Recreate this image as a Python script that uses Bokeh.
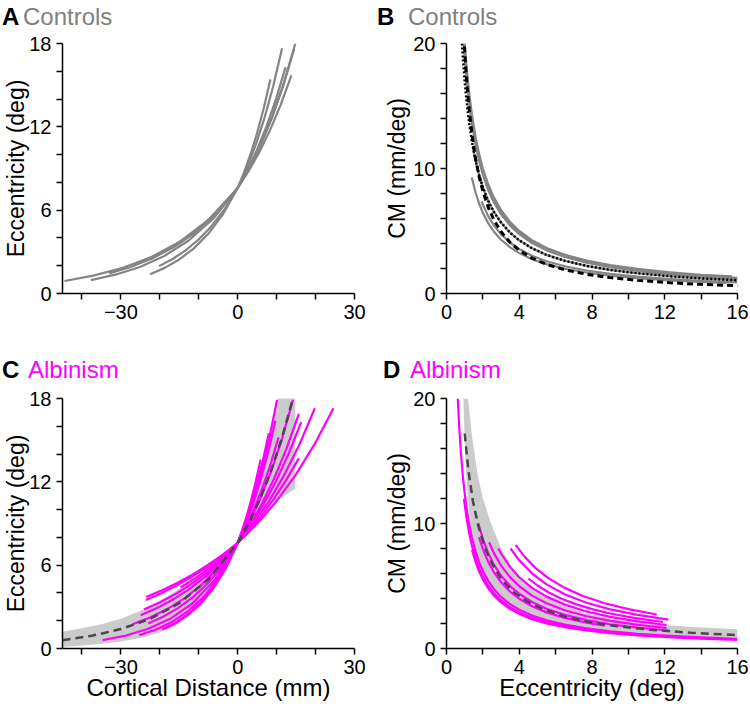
from bokeh.plotting import figure
from bokeh.layouts import column, row
from bokeh.models import Range1d, FixedTicker, Div
from bokeh.embed import file_html
from bokeh.resources import INLINE

# ---------------- data ----------------
# Panel A: controls, eccentricity (deg) vs cortical distance (mm)
ctrl_dist = [
    [-44.5, -37.08, -29.67, -22.25, -14.83, -7.42, 0, 2.96, 5.92, 8.88, 11.84, 14.8],
    [-37.7, -31.42, -25.13, -18.85, -12.57, -6.28, 0, 2.9, 5.8, 8.7, 11.6, 14.5],
    [-26.1, -21.75, -17.4, -13.05, -8.7, -4.35, 0, 2.76, 5.52, 8.28, 11.04, 13.8],
    [-33, -27.5, -22, -16.5, -11, -5.5, 0, 2.46, 4.92, 7.38, 9.84, 12.3],
    [-20.2, -16.83, -13.47, -10.1, -6.73, -3.37, 0, 2.28, 4.56, 6.84, 9.12, 11.4],
    [-22.5, -18.75, -15, -11.25, -7.5, -3.75, 0, 1.68, 3.36, 5.04, 6.72, 8.4],
]
ctrl_ecc = [
    [0.9, 1.285, 1.833, 2.615, 3.732, 5.326, 7.6, 9.03, 10.73, 12.749, 15.149, 18.0],
    [0.96, 1.355, 1.913, 2.701, 3.813, 5.383, 7.6, 8.99, 10.634, 12.579, 14.879, 17.6],
    [2.16, 2.664, 3.285, 4.052, 4.997, 6.163, 7.6, 8.787, 10.159, 11.745, 13.58, 15.7],
    [1.45, 1.911, 2.519, 3.32, 4.375, 5.767, 7.6, 8.853, 10.313, 12.013, 13.993, 16.3],
    [1.97, 2.467, 3.09, 3.87, 4.846, 6.069, 7.6, 8.996, 10.648, 12.605, 14.92, 17.66],
    [1.39, 1.845, 2.449, 3.25, 4.314, 5.726, 7.6, 8.753, 10.081, 11.61, 13.371, 15.4],
]

# Panel B: controls, cortical magnification (mm/deg) vs eccentricity (deg)
ctrl_cm_ecc = [
    [1.0, 1.1, 1.25, 1.4, 1.6, 1.8, 2.0, 2.3, 2.6, 3.0, 3.5, 4.0, 4.7, 5.5, 6.5, 7.7, 9.0, 10.5, 12.3, 14.0, 16.0],
    [0.95, 1.0, 1.1, 1.25, 1.4, 1.6, 1.8, 2.0, 2.3, 2.6, 3.0, 3.5, 4.0, 4.7, 5.5, 6.5, 7.7, 9.0, 10.5, 12.3, 14.0, 16.0],
    [2.16, 2.6, 3.0, 3.5, 4.0, 4.7, 5.5, 6.5, 7.7, 9.0, 10.5, 12.3, 14.0, 15.7],
    [1.45, 1.6, 1.8, 2.0, 2.3, 2.6, 3.0, 3.5, 4.0, 4.7, 5.5, 6.5, 7.7, 9.0, 10.5, 12.3, 14.0, 16.0],
    [1.93, 2.0, 2.3, 2.6, 3.0, 3.5, 4.0, 4.7, 5.5, 6.5, 7.7, 9.0, 10.5, 12.3, 14.0, 16.0],
    [1.39, 1.6, 1.8, 2.0, 2.3, 2.6, 3.0, 3.5, 4.0, 4.7, 5.5, 6.5, 7.7, 9.0, 10.5, 12.3, 14.0, 15.4],
]
ctrl_cm = [
    [20, 18.18, 16, 14.29, 12.5, 11.11, 10, 8.7, 7.69, 6.67, 5.71, 5.0, 4.26, 3.64, 3.08, 2.6, 2.22, 1.9, 1.63, 1.43, 1.25],
    [20, 19, 17.27, 15.2, 13.57, 11.875, 10.56, 9.5, 8.26, 7.31, 6.33, 5.43, 4.75, 4.04, 3.45, 2.92, 2.47, 2.11, 1.81, 1.545, 1.357, 1.19],
    [8.8, 7.4, 6.45, 5.55, 4.9, 4.2, 3.62, 3.09, 2.63, 2.27, 1.97, 1.7, 1.5, 1.38],
    [11.7, 10.6, 9.44, 8.5, 7.39, 6.54, 5.67, 4.86, 4.25, 3.62, 3.09, 2.62, 2.21, 1.89, 1.62, 1.38, 1.21, 1.06],
    [7.36, 7.1, 6.17, 5.46, 4.73, 4.06, 3.55, 3.02, 2.58, 2.18, 1.84, 1.58, 1.35, 1.15, 1.01, 0.89],
    [9.28, 8.06, 7.17, 6.45, 5.61, 4.96, 4.3, 3.69, 3.23, 2.74, 2.35, 1.98, 1.68, 1.43, 1.23, 1.05, 0.92, 0.84],
]
ref_dotted_ecc = [0.85, 0.9, 1.0, 1.1, 1.25, 1.4, 1.6, 1.8, 2.0, 2.3, 2.6, 3.0, 3.5, 4.0, 4.7, 5.5, 6.5, 7.7, 9.0, 10.5, 12.3, 14.0, 16.0]
ref_dotted_cm = [20, 18.89, 17, 15.45, 13.6, 12.14, 10.63, 9.44, 8.5, 7.39, 6.54, 5.67, 4.86, 4.25, 3.62, 3.09, 2.62, 2.21, 1.89, 1.62, 1.38, 1.21, 1.06]
ref_dashed_ecc = [0.95, 1.1, 1.25, 1.4, 1.6, 1.8, 2.0, 2.3, 2.6, 3.0, 3.5, 4.0, 4.7, 5.5, 6.5, 7.7, 9.0, 10.5, 12.3, 14.0, 16.0]
ref_dashed_cm = [20.57, 17.15, 14.64, 12.72, 10.78, 9.31, 8.17, 6.87, 5.9, 4.94, 4.08, 3.46, 2.83, 2.33, 1.9, 1.54, 1.27, 1.05, 0.86, 0.73, 0.62]

# Panel C: albinism, eccentricity vs cortical distance
alb_dist = [
    [-34.7, -28.92, -23.13, -17.35, -11.57, -5.78, 0, 2.02, 4.04, 6.06, 8.08, 10.1],
    [-25.3, -21.08, -16.87, -12.65, -8.43, -4.22, 0, 1.94, 3.88, 5.82, 7.76, 9.7],
    [-19.4, -16.17, -12.93, -9.7, -6.47, -3.23, 0, 1.6, 3.2, 4.8, 6.4, 8.0],
    [-27, -22.5, -18, -13.5, -9, -4.5, 0, 2.84, 5.68, 8.52, 11.36, 14.2],
    [-23, -19.17, -15.33, -11.5, -7.67, -3.83, 0, 2.1, 4.2, 6.3, 8.4, 10.5],
    [-24.9, -20.75, -16.6, -12.45, -8.3, -4.15, 0, 3.14, 6.28, 9.42, 12.56, 15.7],
    [-24.1, -20.08, -16.07, -12.05, -8.03, -4.02, 0, 3.26, 6.52, 9.78, 13.04, 16.3],
    [-23.6, -19.67, -15.73, -11.8, -7.87, -3.93, 0, 3.96, 7.92, 11.88, 15.84, 19.8],
    [-23.5, -19.58, -15.67, -11.75, -7.83, -3.92, 0, 4.92, 9.84, 14.76, 19.68, 24.6],
    [-14.7, -12.25, -9.8, -7.35, -4.9, -2.45, 0, 3.14, 6.28, 9.42, 12.56, 15.7],
    [-18.5, -15.42, -12.33, -9.25, -6.17, -3.08, 0, 1.18, 2.36, 3.54, 4.72, 5.9],
]
alb_ecc = [
    [0.6, 0.916, 1.399, 2.135, 3.26, 4.978, 7.6, 9.02, 10.706, 12.707, 15.082, 17.9],
    [0.96, 1.355, 1.913, 2.701, 3.813, 5.383, 7.6, 8.864, 10.338, 12.057, 14.062, 16.4],
    [1.37, 1.823, 2.425, 3.227, 4.293, 5.712, 7.6, 8.764, 10.107, 11.655, 13.441, 15.5],
    [1.75, 2.235, 2.855, 3.647, 4.658, 5.95, 7.6, 9.02, 10.706, 12.707, 15.082, 17.9],
    [1.8, 2.288, 2.909, 3.698, 4.702, 5.978, 7.6, 8.73, 10.028, 11.519, 13.232, 15.2],
    [2.4, 2.908, 3.524, 4.271, 5.176, 6.272, 7.6, 8.917, 10.463, 12.276, 14.404, 16.9],
    [2.8, 3.307, 3.906, 4.613, 5.449, 6.435, 7.6, 8.853, 10.313, 12.013, 13.993, 16.3],
    [3.5, 3.983, 4.532, 5.158, 5.869, 6.679, 7.6, 8.959, 10.561, 12.45, 14.676, 17.3],
    [3.7, 4.172, 4.703, 5.303, 5.979, 6.741, 7.6, 8.959, 10.561, 12.45, 14.676, 17.3],
    [4.4, 4.82, 5.279, 5.783, 6.334, 6.938, 7.6, 8.551, 9.62, 10.823, 12.177, 13.7],
    [1.45, 1.911, 2.519, 3.32, 4.375, 5.767, 7.6, 8.538, 9.592, 10.775, 12.106, 13.6],
]
alb_mean_dist = [-45, -37.5, -30, -22.5, -15, -7.5, 0, 2.84, 5.68, 8.52, 11.36, 14.2]
alb_mean_ecc = [0.6, 0.916, 1.399, 2.135, 3.26, 4.978, 7.6, 9.03, 10.73, 12.749, 15.149, 18.0]
alb_band_hi_dist = [-45, -40, -35, -30, -25, -20, -15, -10, -5, 0, 2, 4, 6, 8, 10, 11, 12.5, 14.8]
alb_band_hi_ecc = [1.2, 1.45, 1.75, 2.15, 2.7, 3.4, 4.3, 5.3, 6.4, 7.6, 8.9, 10.5, 12.5, 14.9, 17.6, 19.3, 22, 26]
alb_band_lo_dist = [-45, -40, -35, -30, -25, -20, -15, -10, -5, 0, 3, 6, 9, 12, 14.8]
alb_band_lo_ecc = [0.1, 0.22, 0.35, 0.5, 0.75, 1.15, 1.8, 2.9, 4.7, 7.6, 8.9, 9.8, 10.5, 11.0, 11.5]

# Panel D: albinism, cortical magnification vs eccentricity
alb_cm_ecc = [
    [0.62, 0.7, 0.8, 0.9, 1.0, 1.1, 1.25, 1.4, 1.6, 1.8, 2.0, 2.3, 2.6, 3.0, 3.5, 4.0, 4.7, 5.5, 6.5, 7.7, 9.0, 10.5, 12.3, 14.0, 16.0],
    [0.96, 1.1, 1.25, 1.4, 1.6, 1.8, 2.0, 2.3, 2.6, 3.0, 3.5, 4.0, 4.7, 5.5, 6.5, 7.7, 9.0, 10.5, 12.3, 13.7],
    [1.4, 1.6, 1.8, 2.0, 2.3, 2.6, 3.0, 3.5, 4.0, 4.7, 5.5, 6.5, 7.7, 9.0, 10.5, 12.3, 14.0, 16.0],
    [1.75, 2.0, 2.3, 2.6, 3.0, 3.5, 4.0, 4.7, 5.5, 6.5, 7.7, 9.0, 10.5, 12.3],
    [1.79, 2.0, 2.3, 2.6, 3.0, 3.5, 4.0, 4.7, 5.5, 6.5, 7.7, 8.7],
    [2.34, 2.6, 3.0, 3.5, 4.0, 4.7, 5.5, 6.5, 7.7, 9.0, 10.5, 12.1],
    [2.85, 3.0, 3.5, 4.0, 4.7, 5.5, 6.5, 7.7, 9.0, 10.5, 12.1],
    [3.52, 4.0, 4.7, 5.5, 6.5, 7.7, 9.0, 10.5, 12.2],
    [3.8, 4.3, 4.9, 5.6, 6.5, 7.5, 8.7, 10.0, 11.56],
    [4.5, 5.0, 5.6, 6.3, 7.1, 8.0, 9.0, 10.3, 11.9],
]
alb_cm = [
    [20, 17.71, 15.5, 13.78, 12.4, 11.27, 9.92, 8.86, 7.75, 6.89, 6.2, 5.39, 4.77, 4.13, 3.54, 3.1, 2.64, 2.25, 1.91, 1.61, 1.38, 1.18, 1.01, 0.886, 0.775],
    [11.98, 10.45, 9.2, 8.21, 7.19, 6.39, 5.75, 5.0, 4.42, 3.83, 3.29, 2.88, 2.45, 2.09, 1.77, 1.49, 1.28, 1.1, 0.93, 0.84],
    [7.9, 6.91, 6.14, 5.53, 4.81, 4.25, 3.69, 3.16, 2.77, 2.35, 2.01, 1.7, 1.44, 1.23, 1.05, 0.9, 0.79, 0.69],
    [10.0, 8.75, 7.61, 6.73, 5.83, 5.0, 4.38, 3.72, 3.18, 2.69, 2.27, 1.94, 1.67, 1.42],
    [8.9, 7.95, 6.91, 6.12, 5.3, 4.54, 3.98, 3.38, 2.89, 2.45, 2.06, 1.83],
    [8.5, 7.65, 6.63, 5.69, 4.98, 4.23, 3.62, 3.06, 2.58, 2.21, 1.9, 1.64],
    [8.0, 7.6, 6.51, 5.7, 4.85, 4.15, 3.51, 2.96, 2.53, 2.17, 1.88],
    [8.0, 7.05, 6.0, 5.13, 4.34, 3.66, 3.13, 2.69, 2.31],
    [8.29, 7.33, 6.43, 5.63, 4.85, 4.2, 3.62, 3.15, 2.72],
    [5.6, 5.04, 4.5, 4.0, 3.55, 3.15, 2.8, 2.45, 2.12],
]
alb_mean_cm_ecc = [1.0, 1.2, 1.45, 1.75, 2.1, 2.5, 3.0, 3.6, 4.4, 5.3, 6.4, 7.7, 9.3, 11.2, 13.5, 16.0]
alb_mean_cm = [17.2, 14.3, 11.8, 9.8, 8.1, 6.8, 5.6, 4.6, 3.8, 3.15, 2.6, 2.15, 1.8, 1.5, 1.25, 1.07]
alb_cm_band_hi_ecc = [1.18, 1.4, 1.7, 2.0, 2.45, 3.0, 3.6, 4.3, 5.2, 6.3, 7.7, 9.5, 11.5, 13.5, 16.0]
alb_cm_band_hi = [20, 17.0, 14.0, 12.0, 10.0, 8.0, 6.5, 5.3, 4.3, 3.5, 2.8, 2.3, 1.95, 1.72, 1.55]
alb_cm_band_lo_ecc = [0.93, 1.0, 1.1, 1.25, 1.45, 1.7, 2.0, 2.4, 3.0, 3.8, 4.8, 6.0, 7.5, 9.5, 12.0, 14.0, 16.0]
alb_cm_band_lo = [20, 16.5, 13.4, 11.0, 8.9, 7.2, 5.9, 4.8, 3.8, 2.95, 2.35, 1.9, 1.55, 1.25, 1.03, 0.94, 0.88]

# axes ticks and labels
dist_ticks = [-40, -30, -20, -10, 0, 10, 20, 30]
dist_tick_labels = ["", "\u221230", "", "", "0", "", "", "30"]
ecc_ticks = [0, 2, 4, 6, 8, 10, 12, 14, 16, 18]
ecc_tick_labels = ["0", "", "", "6", "", "", "12", "", "", "18"]
eccx_ticks = [0, 2, 4, 6, 8, 10, 12, 14, 16]
eccx_tick_labels = ["0", "", "4", "", "8", "", "12", "", "16"]
cm_ticks = [0, 2, 4, 6, 8, 10, 12, 14, 16, 18, 20]
cm_tick_labels = ["0", "", "", "", "", "10", "", "", "", "", "20"]

# ---------------- styling ----------------
FONT = "Liberation Sans"
GRAY = "#848484"
TITLE_GRAY = "#808080"
MAG = "#ff00ff"
BAND = "#cbcbcb"
DARK = "#484848"
TICK_FS = "20px"
YLABEL_FS = "23px"
XLABEL_FS = "24px"


def make_fig(xr, yr, left, right, top, bottom, fw):
    p = figure(frame_width=fw, frame_height=250,
               x_range=Range1d(*xr), y_range=Range1d(*yr),
               min_border_left=left, min_border_right=right,
               min_border_top=top, min_border_bottom=bottom,
               output_backend="svg", toolbar_location=None, tools="")
    p.outline_line_color = None
    p.xgrid.visible = False
    p.ygrid.visible = False
    p.background_fill_color = "white"
    p.border_fill_color = "white"
    for ax in (p.xaxis[0], p.yaxis[0]):
        ax.axis_line_width = 1.5
        ax.axis_line_color = "black"
        ax.major_tick_line_width = 1.5
        ax.major_tick_line_color = "black"
        ax.major_tick_out = 6
        ax.major_tick_in = 0
        ax.minor_tick_out = 0
        ax.minor_tick_in = 0
        ax.major_label_text_font = FONT
        ax.major_label_text_font_size = TICK_FS
        ax.major_label_text_color = "black"
        ax.major_label_standoff = 5
        ax.axis_label_text_font = FONT
        ax.axis_label_text_font_style = "normal"
        ax.axis_label_text_color = "black"
    p.xaxis[0].axis_label_text_font_size = XLABEL_FS
    p.yaxis[0].axis_label_text_font_size = YLABEL_FS
    return p


def set_ticks(ax, ticks, labels):
    ax.ticker = FixedTicker(ticks=ticks)
    ax.major_label_overrides = {t: s for t, s in zip(ticks, labels)}


def title_div(width, height, letter, word, color, lx, wx, top):
    html = (
        f'<div style="position:relative;width:{width}px;height:{height}px;'
        f'font-family:\'Liberation Sans\',Arial,sans-serif;font-size:24px;line-height:24px;white-space:nowrap;">'
        f'<span style="position:absolute;left:{lx}px;top:{top}px;font-weight:bold;color:#000;">{letter}</span>'
        f'<span style="position:absolute;left:{wx}px;top:{top}px;color:{color};">{word}</span>'
        f'</div>'
    )
    return Div(text=html, width=width, height=height, margin=0)


DIST_R = (-45, 30)
ECC_R = (0, 18)
ECCX_R = (0, 16)
CM_R = (0, 20)

# ---- Panel A ----
pA = make_fig(DIST_R, ECC_R, 60, 19, 13, 62, 292)
set_ticks(pA.xaxis[0], dist_ticks, dist_tick_labels)
set_ticks(pA.yaxis[0], ecc_ticks, ecc_tick_labels)
pA.yaxis[0].axis_label = "Eccentricity (deg)"
pA.yaxis[0].axis_label_standoff = -3
pA.multi_line(xs=ctrl_dist, ys=ctrl_ecc, line_color=GRAY, line_width=2.2, line_join="round")

# ---- Panel B ----
pB = make_fig(ECCX_R, CM_R, 71, 13, 13, 62, 291)
set_ticks(pB.xaxis[0], eccx_ticks, eccx_tick_labels)
set_ticks(pB.yaxis[0], cm_ticks, cm_tick_labels)
pB.yaxis[0].axis_label = "CM (mm/deg)"
pB.yaxis[0].axis_label_standoff = 0
pB.multi_line(xs=ctrl_cm_ecc, ys=ctrl_cm, line_color=GRAY, line_width=2.2, line_join="round")
pB.line(ref_dashed_ecc, ref_dashed_cm, line_color="black", line_width=3, line_dash="6 4")
pB.line(ref_dotted_ecc, ref_dotted_cm, line_color="black", line_width=2.5, line_dash="2 2")

# ---- Panel C ----
pC = make_fig(DIST_R, ECC_R, 60, 19, 13, 58, 292)
set_ticks(pC.xaxis[0], dist_ticks, dist_tick_labels)
set_ticks(pC.yaxis[0], ecc_ticks, ecc_tick_labels)
pC.yaxis[0].axis_label = "Eccentricity (deg)"
pC.yaxis[0].axis_label_standoff = -3
pC.xaxis[0].axis_label = "Cortical Distance (mm)"
pC.xaxis[0].axis_label_standoff = -3
pC.patch(alb_band_hi_dist + alb_band_lo_dist[::-1], alb_band_hi_ecc + alb_band_lo_ecc[::-1],
         fill_color=BAND, line_color=None)
pC.multi_line(xs=alb_dist, ys=alb_ecc, line_color=MAG, line_width=2.2, line_join="round")
pC.line(alb_mean_dist, alb_mean_ecc, line_color=DARK, line_width=2.5, line_dash="8 5")

# ---- Panel D ----
pD = make_fig(ECCX_R, CM_R, 71, 13, 13, 58, 291)
set_ticks(pD.xaxis[0], eccx_ticks, eccx_tick_labels)
set_ticks(pD.yaxis[0], cm_ticks, cm_tick_labels)
pD.yaxis[0].axis_label = "CM (mm/deg)"
pD.yaxis[0].axis_label_standoff = 0
pD.xaxis[0].axis_label = "Eccentricity (deg)"
pD.xaxis[0].axis_label_standoff = -3
pD.patch(alb_cm_band_hi_ecc + alb_cm_band_lo_ecc[::-1], alb_cm_band_hi + alb_cm_band_lo[::-1],
         fill_color=BAND, line_color=None)
pD.multi_line(xs=alb_cm_ecc, ys=alb_cm, line_color=MAG, line_width=2.2, line_join="round")
pD.line(alb_mean_cm_ecc, alb_mean_cm, line_color=DARK, line_width=2.5, line_dash="8 5")

# ---- titles ----
tA = title_div(375, 30, "A", "Controls", TITLE_GRAY, 2, 23, 5)
tB = title_div(375, 30, "B", "Controls", TITLE_GRAY, 2, 33, 5)
tC = title_div(375, 30, "C", "Albinism", MAG, 2, 28, 3)
tD = title_div(375, 30, "D", "Albinism", MAG, 8, 35, 3)

layout = column(row(column(tA, pA), column(tB, pB)),
                row(column(tC, pC), column(tD, pD)))
open("out.html", "w").write(file_html(layout, INLINE))
